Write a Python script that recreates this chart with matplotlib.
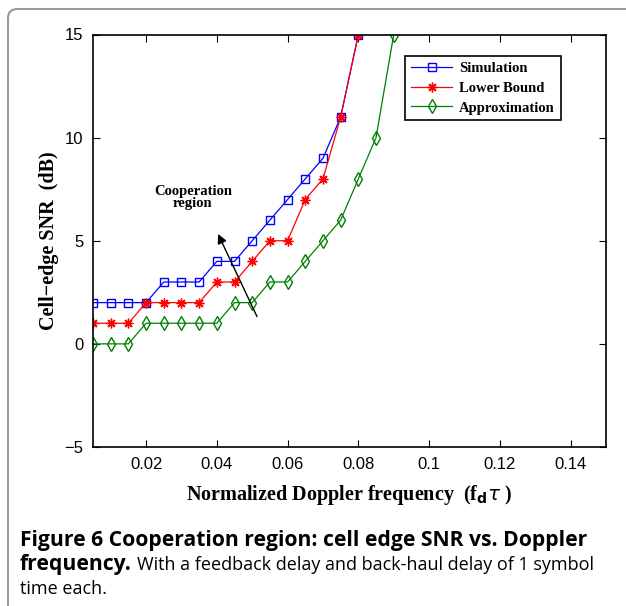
import numpy as np
import matplotlib
matplotlib.use('Agg')
import matplotlib.pyplot as plt
from matplotlib.patches import FancyBboxPatch

# дані
fd = [0.005, 0.01, 0.015, 0.02, 0.025, 0.03, 0.035, 0.04, 0.045,
      0.05, 0.055, 0.06, 0.065, 0.07, 0.075, 0.08, 0.085, 0.09]
sim = [2, 2, 2, 2, 3, 3, 3, 4, 4, 5, 6, 7, 8, 9, 11, 15]
lower = [1, 1, 1, 2, 2, 2, 2, 3, 3, 4, 5, 5, 7, 8, 11, 15]
approx = [0, 0, 0, 1, 1, 1, 1, 1, 2, 2, 3, 3, 4, 5, 6, 8, 10, 15]
labels = ['Simulation', 'Lower Bound', 'Approximation']
xticks = [0.02, 0.04, 0.06, 0.08, 0.1, 0.12, 0.14]
yticks = [-5, 0, 5, 10, 15]

serif = ['Liberation Serif', 'DejaVu Serif']
sans = ['Liberation Sans', 'DejaVu Sans']

fig = plt.figure(figsize=(6.26, 6.06), dpi=100)

# рамка з заокругленим кутом
frame = FancyBboxPatch((8 / 626, -0.2), 1.2, 1.2 - 9 / 606,
                       boxstyle='round,pad=0,rounding_size=0.015',
                       transform=fig.transFigure, fill=False,
                       edgecolor='#999999', linewidth=1.5)
fig.patches.append(frame)

ax = fig.add_axes([93 / 626, 159 / 606, 513 / 626, 412.5 / 606])
ax.plot(fd[:len(sim)], sim, color='blue', marker='s', mfc='none', ms=5.5,
        lw=0.9, label=labels[0])
ax.plot(fd[:len(lower)], lower, color='red', marker=(8, 2, 0), ms=7,
        mew=1.0, lw=0.9, label=labels[1])
ax.plot(fd[:len(approx)], approx, color='green', marker='d', mfc='none',
        ms=7, lw=0.9, label=labels[2])

ax.set_xlim(0.005, 0.15)
ax.set_ylim(-5, 15)
ax.set_xticks(xticks)
ax.set_xticklabels(['0.02', '0.04', '0.06', '0.08', '0.1', '0.12', '0.14'])
ax.set_yticks(yticks)
ax.set_yticklabels(['\u22125', '0', '5', '10', '15'])
for t in ax.get_xticklabels() + ax.get_yticklabels():
    t.set_family(sans)
    t.set_fontsize(12)
ax.tick_params(direction='in', length=5, top=True, right=True, pad=7)
for s in ax.spines.values():
    s.set_linewidth(1.2)

ax.set_xlabel(r'Normalized Doppler frequency  (f$_{\mathbf{d}}$$\tau$ )',
              family=serif, fontweight='bold', fontsize=14.5, labelpad=8)
ax.set_ylabel('Cell\u2212edge SNR  (dB)', family=serif, fontweight='bold',
              fontsize=14.5, labelpad=4)

ax.annotate('', xy=(0.04, 5.45), xytext=(0.0517, 1.2),
            arrowprops=dict(arrowstyle='-|>', color='black', lw=1.0,
                            mutation_scale=14))
ax.text(0.0332, 7.1, 'Cooperation\nregion', ha='center', va='center',
        family=serif, fontweight='bold', fontsize=10.5, linespacing=0.9)

leg = ax.legend(loc='upper right', bbox_to_anchor=(0.912, 0.948),
                borderaxespad=0,
                prop={'family': serif, 'weight': 'bold', 'size': 10.5},
                fancybox=False, edgecolor='black', framealpha=1,
                handlelength=2.8, borderpad=0.4, labelspacing=0.45,
                handletextpad=0.5)
leg.get_frame().set_linewidth(1.2)

# підпис рисунка
cap = ['Open Sans', 'DejaVu Sans']
fig.text(20 / 626, 1 - 546 / 606, 'Figure 6 Cooperation region: cell edge SNR vs. Doppler',
         family=cap, fontweight='bold', fontsize=15.2, va='baseline')
t = fig.text(20 / 626, 1 - 570 / 606, 'frequency.', family=cap,
             fontweight='bold', fontsize=15.2, va='baseline')
fig.canvas.draw()
x1 = fig.transFigure.inverted().transform(
    (t.get_window_extent().x1 + 5, 0))[0]
fig.text(x1, 1 - 570 / 606,
         'With a feedback delay and back-haul delay of 1 symbol',
         family=cap, fontsize=13, va='baseline')
fig.text(20 / 626, 1 - 594 / 606, 'time each.', family=cap, fontsize=13,
         va='baseline')

fig.savefig('out.png', dpi=100)
